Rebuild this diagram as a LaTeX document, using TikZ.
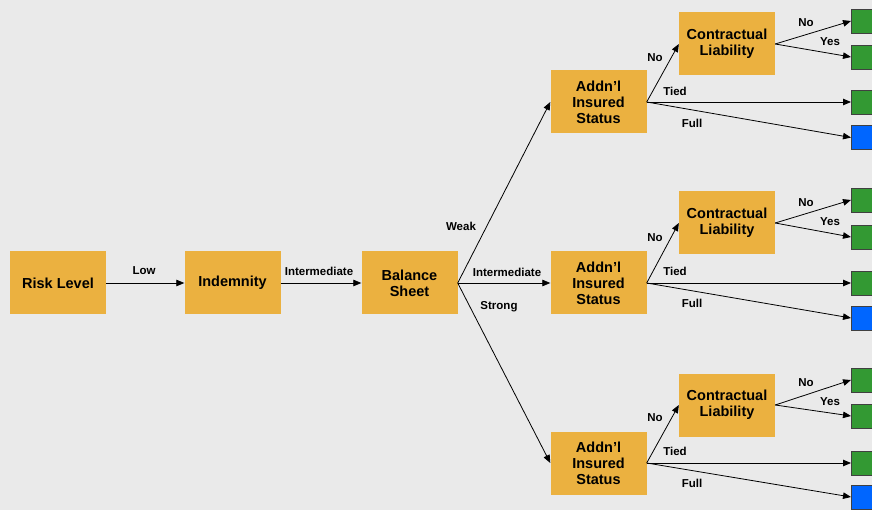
\documentclass[tikz,border=0pt]{standalone}
\usepackage{fontspec}
\setmainfont{Liberation Sans}
\usetikzlibrary{arrows.meta}
\definecolor{bg}{RGB}{234,234,234}
\definecolor{boxor}{RGB}{235,177,64}
\definecolor{tgreen}{RGB}{51,153,51}
\definecolor{tblue}{RGB}{0,102,255}
\tikzset{
  dbox/.style={fill=boxor, minimum width=96pt, minimum height=63pt, inner sep=0pt, align=center, font=\fontsize{14.5}{16}\selectfont\bfseries},
  term/.style={draw=black!75, line width=0.8pt, minimum width=34pt, minimum height=24pt, inner sep=0pt, anchor=west},
  tg/.style={term, fill=tgreen},
  tb/.style={term, fill=tblue},
  conn/.style={draw=black, line width=0.8pt, -{Triangle[length=8pt,width=6.5pt]}},
  lbl/.style={font=\fontsize{11.5}{12}\selectfont\bfseries, inner sep=0pt}
}
\begin{document}
\begin{tikzpicture}[x=1pt,y=-1pt]
\useasboundingbox (0,0) rectangle (872,510);
\fill[bg] (0,0) rectangle (872,510);
\clip (0,0) rectangle (872,510);
% main chain
\node[dbox] (rl) at (58,283) {Risk Level};
\node[dbox] (ind) at (232.5,283) {Indemnity};
\node[dbox] (bs) at (409.5,283) {Balance\\Sheet};
\foreach \i/\ay/\cy/\ta/\tb/\tc/\td in {1/102/44/21/57/102/137.5, 2/283/223/200/237/283/318, 3/463/405/380/416/463/497}{
  \node[dbox] (a\i) at (598.5,\ay) {Addn’l\\Insured\\Status};
  \node[dbox] (c\i) at (727,\cy) {Contractual\\Liability};
  \node[tg] (t\i a) at (851,\ta) {};
  \node[tg] (t\i b) at (851,\tb) {};
  \node[tg] (t\i c) at (851,\tc) {};
  \node[tb] (t\i d) at (851,\td) {};
  \draw[conn] (bs.east) -- (a\i.west);
  \draw[conn] (a\i.east) -- (c\i.west);
  \draw[conn] (a\i.east) -- (t\i c.west);
  \draw[conn] (a\i.east) -- (t\i d.west);
  \draw[conn] (c\i.east) -- (t\i a.west);
  \draw[conn] (c\i.east) -- (t\i b.west);
}
\draw[conn] (rl.east) -- (ind.west);
\draw[conn] (ind.east) -- (bs.west);
% labels
\node[lbl] (lLow) at (144,271) {Low};
\node[lbl] (lInt1) at (319,271) {Intermediate};
\node[lbl] (lWeak) at (461,226) {Weak};
\node[lbl] (lInt2) at (507,272) {Intermediate};
\node[lbl] (lStrong) at (499,307) {Strong};
\foreach \i/\dy in {1/0, 2/180.5, 3/360.5}{
  \node[lbl] (lno\i) at (655,57.5+\dy) {No};
  \node[lbl] (ltied\i) at (675,91+\dy) {Tied};
  \node[lbl] (lfull\i) at (692,123+\dy) {Full};
}
\node[lbl] (lcn1) at (806,22.5) {No};
\node[lbl] (lcy1) at (830,42) {Yes};
\node[lbl] (lcn2) at (806,203) {No};
\node[lbl] (lcy2) at (830,222) {Yes};
\node[lbl] (lcn3) at (806,383) {No};
\node[lbl] (lcy3) at (830,402) {Yes};
\end{tikzpicture}
\end{document}
